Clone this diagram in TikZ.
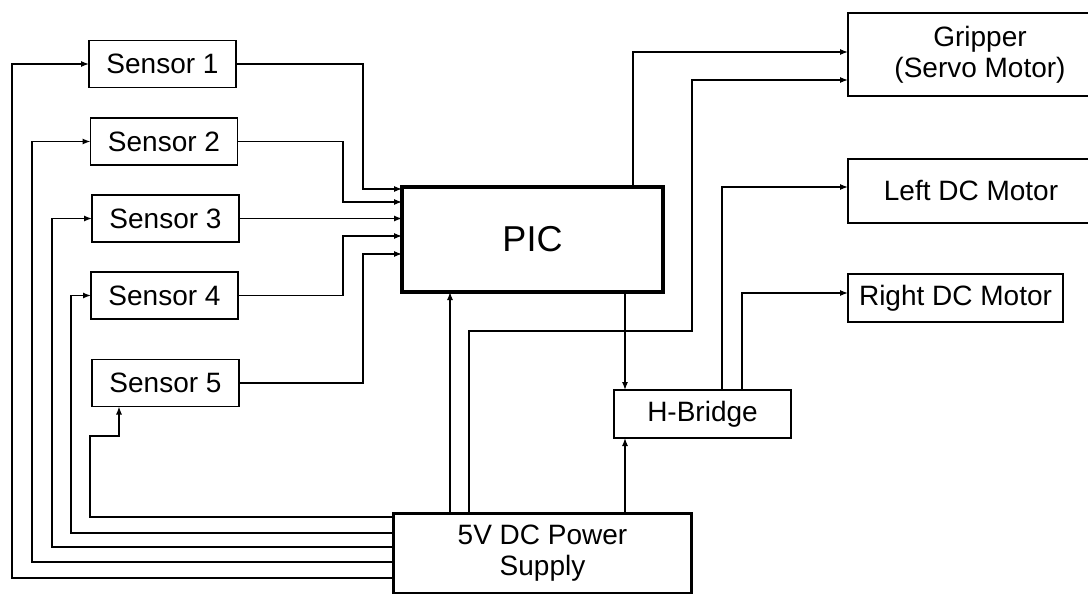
\documentclass[tikz,border=0pt]{standalone}
\usepackage{fontspec}
\setmainfont{Liberation Sans}
\usetikzlibrary{arrows.meta}
\begin{document}
\begin{tikzpicture}[x=1pt,y=-1pt,
  box/.style={draw, line width=1.4pt, inner sep=0pt, outer sep=0pt, align=center,
    font=\fontsize{28}{31}\selectfont},
  picbox/.style={box, line width=4pt, font=\fontsize{36}{40}\selectfont},
  psbox/.style={box, line width=2.5pt},
  wire/.style={line width=1.3pt},
  arr/.style={wire, -{Latex[length=8pt,width=6pt]}}]
\useasboundingbox (0,0) rectangle (1088,594);
\clip (0,0) rectangle (1088,594);
\fill[white] (0,0) rectangle (1088,594);
% nodes
\node[box, minimum width=147pt, minimum height=47pt] (s1) at (162.5,64) {Sensor 1};
\node[box, minimum width=147pt, minimum height=47pt] (s2) at (164,141.5) {Sensor 2};
\node[box, minimum width=147pt, minimum height=47pt] (s3) at (165.5,218.5) {Sensor 3};
\node[box, minimum width=147pt, minimum height=47pt] (s4) at (164.5,295.5) {Sensor 4};
\node[box, minimum width=147pt, minimum height=47pt] (s5) at (165.5,383) {Sensor 5};
\node[picbox, minimum width=261pt, minimum height=105pt] (pic) at (532.5,239.5) {PIC};
\node[psbox, minimum width=298pt, minimum height=80pt] (ps) at (542.5,553.5) {5V DC Power\\Supply};
\node[box, minimum width=177pt, minimum height=48pt] (hb) at (702.5,414) {H-Bridge};
\node[box, minimum width=264pt, minimum height=83pt] (grip) at (980,54.5) {Gripper\\(Servo Motor)};
\node[box, minimum width=246pt, minimum height=64pt] (ldc) at (971,191) {Left DC Motor};
\node[box, minimum width=215pt, minimum height=48pt] (rdc) at (955.5,298) {Right DC Motor};
% waypoints
\coordinate (j1) at (363,189);
\coordinate (j2) at (343,202);
\coordinate (j4) at (343,236);
\coordinate (j5) at (363,254);
\coordinate (L1) at (12,578);
\coordinate (L2) at (32,562);
\coordinate (L3) at (52,547);
\coordinate (L4) at (71,533);
\coordinate (L5) at (90,517);
\coordinate (k5) at (119,436);
\coordinate (v1) at (450,0);
\coordinate (g2a) at (469,331);
\coordinate (g2b) at (692,80);
\coordinate (g1) at (633,52);
\coordinate (h1) at (625,0);
\coordinate (m1) at (722,187);
\coordinate (m2) at (742,293);
% sensor outputs to PIC
\draw[arr] (s1.east) -| (j1) -- (j1 -| pic.west);
\draw[arr] (s2.east) -| (j2) -- (j2 -| pic.west);
\draw[arr] (s3.east) -- (s3.east -| pic.west);
\draw[arr] (s4.east) -| (j4) -- (j4 -| pic.west);
\draw[arr] (s5.east) -| (j5) -- (j5 -| pic.west);
% power to sensors
\draw[arr] (L1 -| ps.west) -- (L1) |- (s1.west);
\draw[arr] (L2 -| ps.west) -- (L2) |- (s2.west);
\draw[arr] (L3 -| ps.west) -- (L3) |- (s3.west);
\draw[arr] (L4 -| ps.west) -- (L4) |- (s4.west);
\draw[arr] (L5 -| ps.west) -- (L5) |- (k5) -- (k5 |- s5.south);
% power to PIC, H-bridge, gripper
\draw[arr] (v1 |- ps.north) -- (v1 |- pic.south);
\draw[arr] (g2a |- ps.north) -- (g2a) -| (g2b) -- (g2b -| grip.west);
\draw[arr] (h1 |- ps.north) -- (h1 |- hb.south);
% PIC outputs
\draw[arr] (g1 |- pic.north) -- (g1) -- (g1 -| grip.west);
\draw[arr] (h1 |- pic.south) -- (h1 |- hb.north);
% H-bridge outputs
\draw[arr] (m1 |- hb.north) -- (m1) -- (m1 -| ldc.west);
\draw[arr] (m2 |- hb.north) -- (m2) -- (m2 -| rdc.west);
\end{tikzpicture}
\end{document}
